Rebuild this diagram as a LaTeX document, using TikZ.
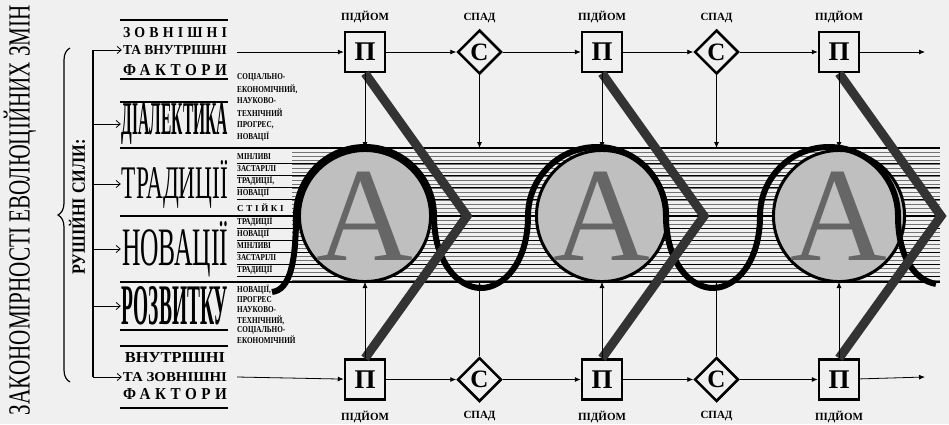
\documentclass[tikz,border=0pt]{standalone}
\usepackage{fontspec}
\setmainfont{Liberation Serif}
\newfontfamily\spacedfont[LetterSpace=30]{Liberation Serif}
\newfontfamily\narrowfont[FakeStretch=0.8]{Liberation Serif}
\usepackage{graphicx}
\usepackage{tikz}
\usetikzlibrary{positioning,arrows.meta,calc,shapes.geometric,decorations.pathreplacing}
\definecolor{paper}{gray}{0.94}
\newcommand{\fittext}[3]{\resizebox{#1}{#2}{#3}}

\begin{document}
\begin{tikzpicture}[
  x=1pt, y=1pt,
  font=\bfseries,
  big/.style={inner sep=1pt},
  tag/.style={font=\narrowfont\bfseries\fontsize{9}{9}\selectfont, inner sep=0pt, anchor=west},
  pbox/.style={draw, line width=2.5pt, fill=paper, minimum width=40pt, minimum height=40pt, inner sep=0pt, font=\bfseries\fontsize{27}{27}\selectfont},
  sbox/.style={diamond, draw, line width=2.5pt, fill=paper, minimum size=44pt, inner sep=0pt, font=\bfseries\fontsize{25}{25}\selectfont},
  lab/.style={font=\bfseries\fontsize{11}{11}\selectfont, inner sep=0pt},
  circ/.style={circle, draw, line width=3pt, fill=black!25, minimum size=130pt, inner sep=0pt, text=black!60, font=\mdseries\fontsize{134}{134}\selectfont},
  arr/.style={-{Latex[length=6pt, width=5pt]}, line width=0.8pt},
  larr/.style={-{Straight Barb[length=4pt, width=7pt]}, line width=0.8pt},
  rule/.style={line width=1.6pt},
  hatch/.style={line width=0.4pt, black!55},
  bar/.style={line width=9pt, black!80, line join=miter},
  wave/.style={line width=6pt},
  ]
  \fill[paper] (0,0) rectangle (949,-424);
  \useasboundingbox (0,0) rectangle (949,-424);

  % Title and driving forces
  \node[rotate=90, inner sep=0pt] (title) at (20,-210) {\fittext{410pt}{26pt}{\mdseries ЗАКОНОМІРНОСТІ ЕВОЛЮЦІЙНИХ ЗМІН}};
  \node[rotate=90, inner sep=0pt] (forces) at (77,-207) {\fittext{135pt}{16pt}{РУШІЙНІ СИЛИ:}};
  \draw[line width=1.2pt, decorate, decoration={brace, amplitude=12pt}] (70,-382) -- (70,-48);

  % Left column
  \node[big] (zovn)  at (175,-32.5) {\fittext{104pt}{10pt}{\spacedfont\bfseries ЗОВНІШНІ}};
  \node[big] (tavn)  at (175,-50)   {\fittext{104pt}{9pt}{ТА ВНУТРІШНІ}};
  \node[big] (fakt1) at (175,-70)   {\fittext{104pt}{11pt}{\spacedfont\bfseries ФАКТОРИ}};
  \node[big] (dial)  at (175,-124)  {\fittext{106pt}{31pt}{ДІАЛЕКТИКА}};
  \node[big] (trad)  at (175,-184)  {\fittext{106pt}{38pt}{\mdseries ТРАДИЦІЇ}};
  \node[big] (nova)  at (175,-249)  {\fittext{106pt}{44pt}{\mdseries НОВАЦІЇ}};
  \node[big] (rozv)  at (175,-306)  {\fittext{106pt}{38pt}{РОЗВИТКУ}};
  \node[big] (vnut)  at (175,-357.5){\fittext{100pt}{10pt}{ВНУТРІШНІ}};
  \node[big] (tazo)  at (175,-377)  {\fittext{104pt}{9pt}{ТА ЗОВНІШНІ}};
  \node[big] (fakt2) at (175,-394)  {\fittext{104pt}{11pt}{\spacedfont\bfseries ФАКТОРИ}};
  \foreach \y in {20,79,102,330,346,408}
    \draw[rule] (120,-\y) -- (228,-\y);

  % Spine with arrows
  \coordinate (sp) at (93,0);
  \draw[line width=2pt] (tavn.west -| sp) -- (tazo.west -| sp);
  \draw[larr] (tavn.west -| sp) -- (tavn.west);
  \draw[larr] (dial.west -| sp) -- (dial.west);
  \draw[larr] (trad.west -| sp) -- (trad.west);
  \draw[larr] (nova.west -| sp) -- (nova.west);
  \draw[larr] (rozv.west -| sp) -- (rozv.west);
  \draw[larr] (tazo.west -| sp) -- (tazo.west);

  % Band of lines
  \foreach \y in {152,156,...,280}
    \draw[hatch] (292,-\y) -- (940,-\y);
  \foreach \y in {163,175,187,199,228,240,252,264,276}
    \draw[line width=1pt] (237,-\y) -- (940,-\y);
  \foreach \y in {148,216,282}
    \draw[line width=2pt] (120,-\y) -- (940,-\y);

  % Small labels
  \foreach \t/\y [count=\i] in {СОЦІАЛЬНО-/77, {ЕКОНОМІЧНИЙ,}/89, НАУКОВО-/101, ТЕХНІЧНИЙ/113, {ПРОГРЕС,}/125, НОВАЦІЇ/137}
    \node[tag] (s\i) at (237,-\y) {\t};
  \foreach \t/\y [count=\i] in {МІНЛИВІ/157, ЗАСТАРІЛІ/169, {ТРАДИЦІЇ,}/181, НОВАЦІЇ/193, {\spacedfont\bfseries СТІЙКІ}/208, ТРАДИЦІЇ/222, НОВАЦІЇ/234, МІНЛИВІ/246, ЗАСТАРІЛІ/258, ТРАДИЦІЇ/270}
    \node[tag] (m\i) at (237,-\y) {\t};
  \foreach \t/\y [count=\i] in {{НОВАЦІЇ,}/290, ПРОГРЕС/300, НАУКОВО-/310, {ТЕХНІЧНИЙ,}/320, СОЦІАЛЬНО-/330, ЕКОНОМІЧНИЙ/340}
    \node[tag] (r\i) at (237,-\y) {\t};

  % Upper row
  \node[pbox] (t1) at (365,-52) {П};
  \node[sbox, right=70pt of t1] (t2) {С};
  \node[pbox, right=78pt of t2] (t3) {П};
  \node[sbox, right=70pt of t3] (t4) {С};
  \node[pbox, right=78pt of t4] (t5) {П};
  \node[lab, above=8pt of t1] (l1) {ПІДЙОМ};
  \node[lab, above=6pt of t2] (l2) {СПАД};
  \node[lab, above=8pt of t3] (l3) {ПІДЙОМ};
  \node[lab, above=6pt of t4] (l4) {СПАД};
  \node[lab, above=8pt of t5] (l5) {ПІДЙОМ};

  % Lower row
  \node[pbox, below=285pt of t1] (b1) {П};
  \node[sbox, below=281pt of t2] (b2) {С};
  \node[pbox, below=285pt of t3] (b3) {П};
  \node[sbox, below=281pt of t4] (b4) {С};
  \node[pbox, below=285pt of t5] (b5) {П};
  \node[lab, below=10pt of b1] (n1) {ПІДЙОМ};
  \node[lab, below=8pt of b2] (n2) {СПАД};
  \node[lab, below=10pt of b3] (n3) {ПІДЙОМ};
  \node[lab, below=8pt of b4] (n4) {СПАД};
  \node[lab, below=10pt of b5] (n5) {ПІДЙОМ};

  % Circles
  \coordinate (mid) at (0,-216);
  \node[circ] (a1) at (t1 |- mid) {A};
  \node[circ] (a2) at (t3 |- mid) {A};
  \node[circ] (a3) at (t5 |- mid) {A};

  % Wave
  \draw[wave] (272,-292) .. controls (290,-290) and (296,-262) .. (296,-216)
    arc[start angle=180, end angle=0, radius=69pt]
    .. controls (434,-262) and (458,-288) .. (481,-288)
    .. controls (504,-288) and (528,-262) .. (528,-216)
    arc[start angle=180, end angle=0, radius=69pt]
    .. controls (666,-262) and (690,-288) .. (713,-288)
    .. controls (736,-288) and (760,-262) .. (760,-216)
    arc[start angle=180, end angle=0, radius=69pt]
    .. controls (898,-256) and (914,-280) .. (936,-284);

  % Bars
  \coordinate (k1) at ([xshift=102pt]a1.center);
  \coordinate (k2) at ([xshift=102pt]a2.center);
  \coordinate (k3) at ([xshift=102pt]a3.center);
  \draw[bar] (t1.south) -- (k1) -- (b1.north);
  \draw[bar] (t3.south) -- (k2) -- (b3.north);
  \draw[bar] (t5.south) -- (k3) -- (b5.north);

  % Arrows
  \coordinate (tin) at (237,-52);
  \coordinate (tout) at (925,-52);
  \coordinate (bin) at (237,-377);
  \coordinate (bout) at (925,-377);
  \draw[arr] (tin) -- (t1);
  \draw[arr] (t1) -- (t2);
  \draw[arr] (t2) -- (t3);
  \draw[arr] (t3) -- (t4);
  \draw[arr] (t4) -- (t5);
  \draw[arr] (t5) -- (tout);
  \draw[arr] (bin) -- (b1);
  \draw[arr] (b1) -- (b2);
  \draw[arr] (b2) -- (b3);
  \draw[arr] (b3) -- (b4);
  \draw[arr] (b4) -- (b5);
  \draw[arr] (b5) -- (bout);
  \coordinate (btop) at (0,-148);
  \coordinate (bbot) at (0,-282);
  \foreach \i in {1,...,5} {
    \draw[arr] (t\i) -- (t\i |- btop);
    \draw[arr] (b\i) -- (b\i |- bbot);
  }
\end{tikzpicture}
\end{document}
